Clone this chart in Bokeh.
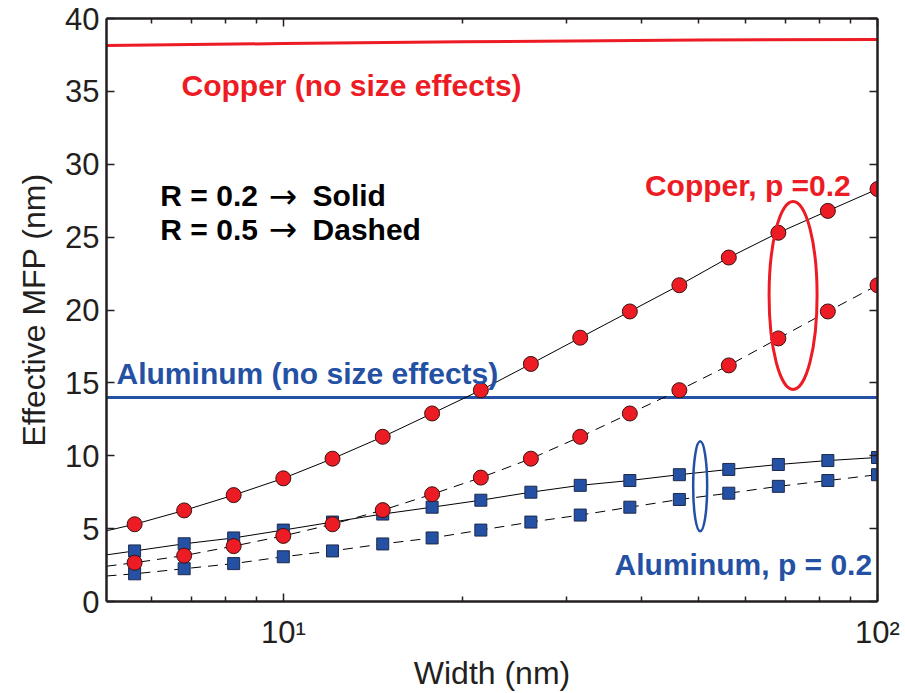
from bokeh.plotting import figure
from bokeh.models import (FixedTicker, LogAxis, LinearAxis, Range1d,
                          CustomJSTickFormatter)
from bokeh.core.properties import value
from bokeh.embed import file_html
from bokeh.resources import INLINE

# ---- data ----
width_nm = [5.62, 6.81, 8.25, 10.0, 12.1, 14.7, 17.8, 21.5, 26.1, 31.6,
            38.3, 46.4, 56.2, 68.1, 82.5, 100.0]
cu_r02 = [5.3, 6.25, 7.3, 8.45, 9.8, 11.3, 12.9, 14.5, 16.3, 18.1,
          19.9, 21.7, 23.6, 25.3, 26.8, 28.3]
cu_r05 = [2.66, 3.15, 3.8, 4.5, 5.3, 6.27, 7.36, 8.5, 9.8, 11.3,
          12.9, 14.5, 16.2, 18.05, 19.9, 21.7]
al_r02 = [3.47, 3.96, 4.36, 4.9, 5.45, 6.0, 6.47, 6.95, 7.5, 7.97,
          8.3, 8.7, 9.06, 9.4, 9.67, 9.88]
al_r05 = [1.9, 2.25, 2.6, 3.07, 3.47, 3.95, 4.36, 4.9, 5.45, 5.93,
          6.47, 7.0, 7.43, 7.9, 8.3, 8.7]

# curve values at the left edge of the plot (x = 5.04)
x_edge = 5.04
cu_r02_edge = 4.85
cu_r05_edge = 2.42
al_r02_edge = 3.2
al_r05_edge = 1.75

# bulk (no size effects) values
cu_bulk_x = [5.04, 10.0, 20.0, 50.0, 100.0]
cu_bulk_y = [38.15, 38.28, 38.4, 38.52, 38.56]
al_bulk_x = [5.04, 100.0]
al_bulk_y = [14.0, 14.0]

y_ticks = [0, 5, 10, 15, 20, 25, 30, 35, 40]
x_major = [10, 100]
x_minor = [6, 7, 8, 9, 20, 30, 40, 50, 60, 70, 80, 90]
x_tick_labels = ["10\u00b9", "10\u00b2"]

RED = "#ED1C24"
BLUE = "#2451A3"
INK = "#231F20"
FONT = "Liberation Sans"

p = figure(width=905, height=693, x_axis_type="log",
           x_range=Range1d(5.04, 100), y_range=Range1d(0, 40),
           output_backend="svg", toolbar_location=None,
           min_border_left=106, min_border_top=18,
           min_border_right=28, min_border_bottom=88)
p.grid.visible = False
p.outline_line_color = None
p.background_fill_color = "white"
p.border_fill_color = "white"


def style_axis(ax, show_labels):
    ax.axis_line_width = 2.5
    ax.axis_line_color = INK
    ax.major_tick_in = 8
    ax.major_tick_out = 0
    ax.minor_tick_in = 5
    ax.minor_tick_out = 0
    ax.major_tick_line_width = 1.5
    ax.minor_tick_line_width = 1.5
    ax.major_tick_line_color = INK
    ax.minor_tick_line_color = INK
    ax.major_label_text_font = FONT
    ax.major_label_text_color = INK
    if show_labels:
        ax.major_label_text_font_size = "31px"
    else:
        ax.formatter = CustomJSTickFormatter(code="return ''")
        ax.major_label_text_font_size = "1px"
        ax.major_label_standoff = 0


xt = FixedTicker(ticks=x_major, minor_ticks=x_minor)
yt = FixedTicker(ticks=y_ticks, minor_ticks=[])

p.xaxis.ticker = xt
p.yaxis.ticker = yt
style_axis(p.xaxis[0], True)
style_axis(p.yaxis[0], True)
p.xaxis.formatter = CustomJSTickFormatter(
    args=dict(major_vals=x_major, major_labels=x_tick_labels),
    code="""
for (let i = 0; i < major_vals.length; i++) {
  if (Math.abs(major_vals[i] - tick) < 1e-6 * major_vals[i]) {
    return major_labels[i];
  }
}
return '';
""")
p.xaxis.major_label_standoff = 13
p.yaxis.major_label_standoff = 7
p.xaxis.axis_label = "Width (nm)"
p.yaxis.axis_label = "Effective MFP (nm)"
for ax in (p.xaxis[0], p.yaxis[0]):
    ax.axis_label_text_font = FONT
    ax.axis_label_text_font_style = "normal"
    ax.axis_label_text_font_size = "32px"
    ax.axis_label_text_color = INK
p.xaxis.axis_label_standoff = 2
p.yaxis.axis_label_standoff = 10

top = LogAxis(ticker=FixedTicker(ticks=x_major, minor_ticks=x_minor))
style_axis(top, False)
p.add_layout(top, "above")
right = LinearAxis(ticker=FixedTicker(ticks=y_ticks, minor_ticks=[]))
style_axis(right, False)
p.add_layout(right, "right")

# bulk lines
p.line(cu_bulk_x, cu_bulk_y, line_color=RED, line_width=3)
p.line(al_bulk_x, al_bulk_y, line_color=BLUE, line_width=3)

# model curves
lx = [x_edge] + width_nm
p.line(lx, [cu_r02_edge] + cu_r02, line_color="black", line_width=1)
p.line(lx, [cu_r05_edge] + cu_r05, line_color="black", line_width=1,
       line_dash="10 7")
p.line(lx, [al_r02_edge] + al_r02, line_color="black", line_width=1)
p.line(lx, [al_r05_edge] + al_r05, line_color="black", line_width=1,
       line_dash="10 7")

# markers (aluminum first, copper drawn on top)
for ys in (al_r02, al_r05):
    p.scatter(width_nm, ys, marker="square", size=12, fill_color=BLUE,
              line_color="#1E2A4A", line_width=1)
for ys in (cu_r02, cu_r05):
    p.scatter(width_nm, ys, marker="circle", size=15, fill_color=RED,
              line_color="#3A1212", line_width=1)

# grouping ellipses
p.ellipse([72.1], [21.0], width=48, height=188, width_units="screen",
          height_units="screen", fill_color=None, line_color=RED,
          line_width=3)
p.ellipse([50.3], [7.9], width=14, height=90, width_units="screen",
          height_units="screen", fill_color=None, line_color=BLUE,
          line_width=2.5)


def label(x, y, txt, color, font=FONT, style="bold", size="30px"):
    p.text([x], [y], text=[txt], text_color=color,
           text_font=value(font), text_font_style=style,
           text_font_size=value(size), text_align="left",
           text_baseline="alphabetic")


label(6.74, 35.43, "Copper (no size effects)", RED)
label(5.24, 15.67, "Aluminum (no size effects)", BLUE)
label(6.21, 27.85, "R = 0.2", "black")
label(9.45, 27.85, "\u2192", "black", font="DejaVu Sans", style="normal",
      size="34px")
label(11.2, 27.85, "Solid", "black")
label(6.21, 25.55, "R = 0.5", "black")
label(9.45, 25.55, "\u2192", "black", font="DejaVu Sans", style="normal",
      size="34px")
label(11.2, 25.55, "Dashed", "black")
label(40.6, 28.57, "Copper, p =0.2", RED)
label(36.1, 2.52, "Aluminum, p = 0.2", BLUE)

open("out.html", "w").write(file_html(p, INLINE))
